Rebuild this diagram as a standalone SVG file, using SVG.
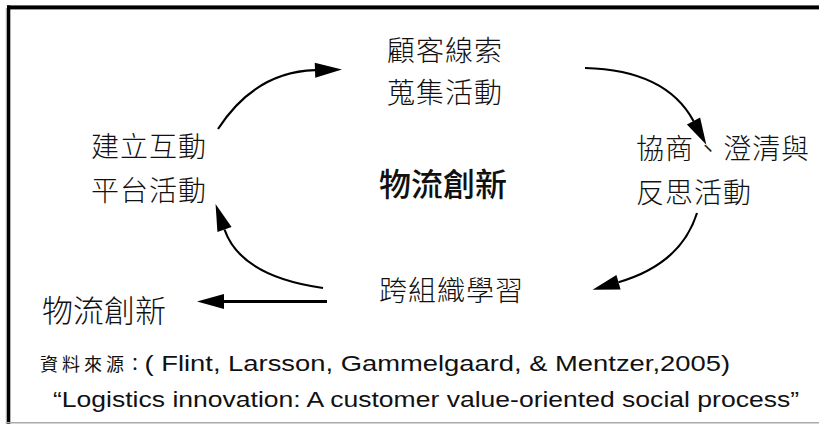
<svg xmlns="http://www.w3.org/2000/svg" width="819" height="424" viewBox="0 0 819 424">
  <style>
    .cjk { font-family: "Noto Sans CJK TC", "Noto Sans CJK SC", sans-serif; fill: #111; }
    .lbl { font-size: 28px; font-weight: 300; letter-spacing: 1px; }
    .big { font-size: 31px; }
    .lat { font-family: "Liberation Sans", Arial, sans-serif; font-size: 21.5px; fill: #111; }
    .conn { fill: none; stroke: #000; stroke-width: 2.2; }
  </style>
  <defs>
    <marker id="head" markerUnits="userSpaceOnUse" markerWidth="30" markerHeight="18" refX="0" refY="7.5" orient="auto" overflow="visible">
      <path d="M0,0 L27,7.5 L0,15 Z" fill="#000"/>
    </marker>
  </defs>

  <!-- frame -->
  <rect width="819" height="424" fill="#fff"/>
  <line x1="6.3" y1="8" x2="6.3" y2="424" stroke="#999" stroke-width="1"/>
  <rect x="7" y="5.4" width="812" height="4" fill="#000"/>
  <rect x="7" y="5.4" width="3.3" height="418.6" fill="#000"/>
  <line x1="7" y1="422.8" x2="819" y2="422.8" stroke="#aaa" stroke-width="1.4"/>

  <!-- connectors -->
  <g id="connectors">
    <path class="conn" d="M218,129 Q255,72 315,70.2" marker-end="url(#head)"/>
    <path class="conn" d="M585,68 Q666,70 693.5,121" marker-end="url(#head)"/>
    <path class="conn" d="M697,213 Q681,264 618.5,282.2" marker-end="url(#head)"/>
    <path class="conn" d="M323,288 Q241,276.5 224.5,229.5" marker-end="url(#head)"/>
    <path class="conn" d="M327,301.5 L224,301.5" marker-end="url(#head)" style="stroke-width:2.8"/>
  </g>

  <!-- nodes -->
  <g id="node-collect">
    <text class="cjk lbl" x="387" y="61">顧客線索</text>
    <text class="cjk lbl" x="387" y="103">蒐集活動</text>
  </g>
  <g id="node-negotiate">
    <text class="cjk lbl" x="636" y="159">協商、澄清與</text>
    <text class="cjk lbl" x="636" y="203">反思活動</text>
  </g>
  <g id="node-learning">
    <text class="cjk lbl" x="379" y="301">跨組織學習</text>
  </g>
  <g id="node-platform">
    <text class="cjk lbl" x="91" y="157">建立互動</text>
    <text class="cjk lbl" x="91" y="201">平台活動</text>
  </g>
  <g id="node-center">
    <text class="cjk" x="379" y="196" style="font-size:32px;font-weight:500">物流創新</text>
  </g>
  <g id="node-output">
    <text class="cjk big" x="42" y="321.5" style="font-weight:300">物流創新</text>
  </g>

  <!-- source note -->
  <g id="source">
    <text class="cjk" x="40 62 84 106" y="371" style="font-size:18px">資料來源</text>
    <text class="cjk" x="126" y="371" style="font-size:18px">：</text>
    <text class="lat" x="144.5" y="371" textLength="585.5" lengthAdjust="spacingAndGlyphs">( Flint, Larsson, Gammelgaard, &amp; Mentzer,2005)</text>
    <text class="lat" x="53" y="407" textLength="746" lengthAdjust="spacingAndGlyphs">“Logistics innovation: A customer value-oriented social process”</text>
  </g>
</svg>
